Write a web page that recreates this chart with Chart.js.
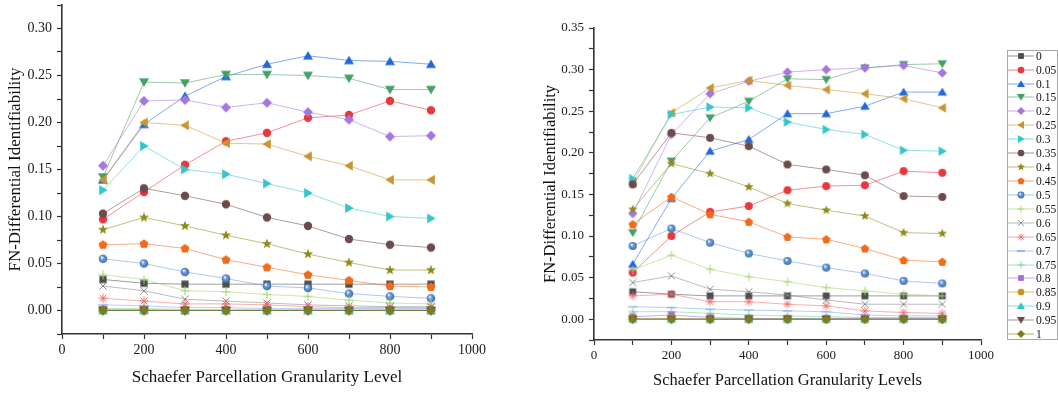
<!DOCTYPE html>
<html>
<head>
<meta charset="utf-8">
<script src="https://cdn.jsdelivr.net/npm/chart.js@4.4.1/dist/chart.umd.min.js"></script>
<style>
  body { margin: 0; background: #fff; width: 1058px; height: 393px; overflow: hidden; position: relative; font-family: 'Liberation Serif', 'Times New Roman', serif; }
  #left { position: absolute; left: 0; top: 0; }
  #right { position: absolute; left: 530px; top: 0; }
  #legend { position: absolute; left: 1007px; top: 50px; width: 51px; height: 290px; border: 1px solid #a8a8a8; box-sizing: border-box; background: #fff; }
  .row { position: absolute; left: 0; width: 49px; height: 14px; }
  .row canvas { position: absolute; left: 0; top: 0; }
  .row span { position: absolute; left: 28px; top: 0; font-size: 11.5px; line-height: 14px; color: #111; }
</style>
</head>
<body>
<canvas id="left" width="530" height="393"></canvas>
<canvas id="right" width="528" height="393"></canvas>
<div id="legend"></div>
<script>
// series names (threshold levels), in legend order
const levels = ['0', '0.05', '0.1', '0.15', '0.2', '0.25', '0.3', '0.35', '0.4', '0.45', '0.5',
  '0.55', '0.6', '0.65', '0.7', '0.75', '0.8', '0.85', '0.9', '0.95', '1'];

// x values: Schaefer parcellation granularity
const granularity = [100, 200, 300, 400, 500, 600, 700, 800, 900];

// left panel, one row per level
const panelA = [
  [0.033, 0.029, 0.028, 0.028, 0.028, 0.028, 0.028, 0.028, 0.028], // 0
  [0.097, 0.126, 0.155, 0.180, 0.189, 0.205, 0.208, 0.223, 0.213], // 0.05
  [0.139, 0.198, 0.228, 0.249, 0.262, 0.271, 0.266, 0.265, 0.262], // 0.1
  [0.142, 0.243, 0.242, 0.251, 0.251, 0.250, 0.247, 0.235, 0.235], // 0.15
  [0.154, 0.223, 0.224, 0.216, 0.221, 0.211, 0.203, 0.185, 0.186], // 0.2
  [0.139, 0.200, 0.197, 0.178, 0.177, 0.164, 0.154, 0.139, 0.139], // 0.25
  [0.128, 0.175, 0.150, 0.145, 0.135, 0.125, 0.109, 0.100, 0.098], // 0.3
  [0.103, 0.130, 0.122, 0.113, 0.099, 0.090, 0.076, 0.070, 0.067], // 0.35
  [0.086, 0.099, 0.090, 0.080, 0.071, 0.060, 0.051, 0.043, 0.043], // 0.4
  [0.070, 0.071, 0.066, 0.054, 0.046, 0.038, 0.032, 0.026, 0.025], // 0.45
  [0.055, 0.050, 0.041, 0.034, 0.026, 0.024, 0.018, 0.015, 0.013], // 0.5
  [0.038, 0.033, 0.021, 0.020, 0.017, 0.015, 0.011, 0.008, 0.007], // 0.55
  [0.026, 0.021, 0.012, 0.010, 0.008, 0.006, 0.005, 0.004, 0.004], // 0.6
  [0.013, 0.010, 0.007, 0.007, 0.006, 0.004, 0.003, 0.003, 0.003], // 0.65
  [0.006, 0.005, 0.003, 0.003, 0.002, 0.002, 0.002, 0.002, 0.002], // 0.7
  [0.002, 0.002, 0.001, 0.001, 0.001, 0.001, 0.001, 0.001, 0.001], // 0.75
  [0.001, 0.001, 0, 0, 0, 0, 0, 0, 0], // 0.8
  [0, 0, 0, 0, 0, 0, 0, 0, 0], // 0.85
  [0, 0, 0, 0, 0, 0, 0, 0, 0], // 0.9
  [0, 0, 0, 0, 0, 0, 0, 0, 0], // 0.95
  [0, 0, 0, 0, 0, 0, 0, 0, 0]  // 1
];

// right panel
const panelB = [
  [0.033, 0.030, 0.028, 0.028, 0.028, 0.028, 0.028, 0.028, 0.028], // 0
  [0.056, 0.100, 0.129, 0.136, 0.155, 0.160, 0.161, 0.178, 0.176], // 0.05
  [0.066, 0.145, 0.202, 0.216, 0.247, 0.247, 0.256, 0.273, 0.273], // 0.1
  [0.104, 0.190, 0.242, 0.262, 0.289, 0.288, 0.302, 0.306, 0.307], // 0.15
  [0.127, 0.222, 0.271, 0.286, 0.297, 0.300, 0.302, 0.305, 0.296], // 0.2
  [0.164, 0.248, 0.278, 0.287, 0.281, 0.276, 0.271, 0.265, 0.254], // 0.25
  [0.169, 0.246, 0.255, 0.254, 0.237, 0.228, 0.222, 0.203, 0.202], // 0.3
  [0.162, 0.224, 0.218, 0.208, 0.186, 0.180, 0.173, 0.148, 0.147], // 0.35
  [0.132, 0.187, 0.175, 0.159, 0.139, 0.131, 0.124, 0.104, 0.103], // 0.4
  [0.114, 0.147, 0.126, 0.117, 0.099, 0.096, 0.085, 0.071, 0.069], // 0.45
  [0.088, 0.109, 0.092, 0.079, 0.070, 0.062, 0.055, 0.046, 0.043], // 0.5
  [0.059, 0.077, 0.060, 0.051, 0.045, 0.038, 0.034, 0.030, 0.028], // 0.55
  [0.044, 0.052, 0.036, 0.033, 0.029, 0.023, 0.018, 0.018, 0.018], // 0.6
  [0.028, 0.030, 0.021, 0.021, 0.018, 0.016, 0.010, 0.008, 0.007], // 0.65
  [0.015, 0.014, 0.012, 0.011, 0.010, 0.009, 0.005, 0.004, 0.004], // 0.7
  [0.009, 0.009, 0.007, 0.005, 0.004, 0.003, 0.002, 0.002, 0.002], // 0.75
  [0.003, 0.005, 0.002, 0.001, 0.001, 0.001, 0.001, 0.001, 0.001], // 0.8
  [0.001, 0.001, 0, 0, 0, 0, 0, 0, 0], // 0.85
  [0, 0, 0, 0, 0, 0, 0, 0, 0], // 0.9
  [0, 0, 0, 0, 0, 0, 0, 0, 0], // 0.95
  [0, 0, 0, 0, 0, 0, 0, 0, 0]  // 1
];

const shapes = ['square', 'circle', 'up', 'down', 'diamond', 'left', 'right', 'circle', 'star', 'pentagon', 'sphere',
  'plus', 'x', 'asterisk', 'dash', 'plus', 'square', 'circle', 'up', 'down', 'diamond'];
const colors = ['#4d4d4d', '#e8373e', '#2268dc', '#45a066', '#a577e0', '#c99530', '#34c6c9', '#6f4a4a', '#8e8a1c', '#f26a1a', '#6a9bd8',
  '#9ed66a', '#858585', '#f26d6d', '#7aa7ef', '#6ccf95', '#a66bdf', '#c8941e', '#2cc8c8', '#6f4a4a', '#7d7d1c'];

const serif = 'Liberation Serif';

function fade(hex, a) {
  const n = parseInt(hex.slice(1), 16);
  return `rgba(${n >> 16}, ${(n >> 8) & 255}, ${n & 255}, ${a})`;
}

function poly(g, pts) {
  g.beginPath();
  pts.forEach(([x, y], i) => i ? g.lineTo(x, y) : g.moveTo(x, y));
  g.closePath();
  g.fill();
}

function ringPts(count, rOut, rIn) {
  const pts = [];
  const step = Math.PI / count;
  for (let i = 0; i < count * 2; i++) {
    const r = (i % 2 === 0) ? rOut : rIn;
    const a = -Math.PI / 2 + i * step;
    pts.push([r * Math.cos(a), r * Math.sin(a)]);
  }
  return pts;
}

function lines(g, segs, w) {
  g.lineWidth = w;
  g.beginPath();
  segs.forEach(([x1, y1, x2, y2]) => { g.moveTo(x1, y1); g.lineTo(x2, y2); });
  g.stroke();
}

// draws one Origin-style symbol centred at 0,0
function paint(g, shape, color) {
  g.fillStyle = color;
  g.strokeStyle = color;
  switch (shape) {
    case 'square': g.fillRect(-3.6, -3.6, 7.2, 7.2); break;
    case 'circle': g.beginPath(); g.arc(0, 0, 4.2, 0, Math.PI * 2); g.fill(); break;
    case 'up': poly(g, [[0, -4.7], [5, 3.8], [-5, 3.8]]); break;
    case 'down': poly(g, [[0, 4.7], [5, -3.8], [-5, -3.8]]); break;
    case 'left': poly(g, [[-4.7, 0], [3.8, -5], [3.8, 5]]); break;
    case 'right': poly(g, [[4.7, 0], [-3.8, -5], [-3.8, 5]]); break;
    case 'diamond': poly(g, [[0, -5], [5, 0], [0, 5], [-5, 0]]); break;
    case 'star': poly(g, ringPts(5, 5.3, 2.2)); break;
    case 'pentagon': {
      const pts = [];
      for (let i = 0; i < 5; i++) {
        const a = -Math.PI / 2 + i * 2 * Math.PI / 5;
        pts.push([4.7 * Math.cos(a), 4.7 * Math.sin(a) + 0.3]);
      }
      poly(g, pts);
      break;
    }
    case 'sphere': {
      const grd = g.createRadialGradient(-1.4, -1.6, 0.2, 0, 0, 4.4);
      grd.addColorStop(0, '#ffffff');
      grd.addColorStop(0.4, color);
      grd.addColorStop(1, '#3e6cab');
      g.fillStyle = grd;
      g.beginPath(); g.arc(0, 0, 4.3, 0, Math.PI * 2); g.fill();
      break;
    }
    case 'plus': lines(g, [[-4.5, 0, 4.5, 0], [0, -4.5, 0, 4.5]], 1); break;
    case 'x': lines(g, [[-3.7, -3.7, 3.7, 3.7], [-3.7, 3.7, 3.7, -3.7]], 1); break;
    case 'asterisk': lines(g, [[-4.5, 0, 4.5, 0], [0, -4.5, 0, 4.5], [-3.3, -3.3, 3.3, 3.3], [-3.3, 3.3, 3.3, -3.3]], 1); break;
    case 'dash': lines(g, [[-5, 0, 5, 0], [-5, 0, 5, 0]], 1.2); break;
  }
}

function marker(shape, color, k) {
  const c = document.createElement('canvas');
  c.width = 14;
  c.height = 14;
  const g = c.getContext('2d');
  g.translate(7, 7);
  g.scale(k, k);
  paint(g, shape, color);
  return c;
}

function makeDatasets(rows, k) {
  return rows.map((vals, i) => ({
    label: levels[i],
    data: granularity.map((x, j) => ({ x: x, y: vals[j] })),
    borderColor: fade(colors[i], 0.55),
    borderWidth: 1,
    pointStyle: marker(shapes[i], colors[i], k),
    pointRadius: 4,
    pointHoverRadius: 4,
    order: rows.length - 1 - i,
    clip: false
  }));
}

const isMajor = (v, step) => Math.abs(v / step - Math.round(v / step)) < 1e-6;

function makeScales(o) {
  const tickFont = { family: serif, size: o.tick };
  const titleFont = { family: serif, size: o.title };
  return {
    x: {
      type: 'linear', min: 0, max: 1000,
      ticks: { stepSize: 100, autoSkip: false, maxRotation: 0, color: '#1a1a1a', font: tickFont, padding: 3,
        callback: v => isMajor(v, 200) ? String(Math.round(v)) : '' },
      grid: { drawOnChartArea: false, tickLength: 5, tickColor: '#333', tickWidth: 1.2 },
      border: { color: '#333', width: 1.6 },
      title: { display: true, text: o.xTitle, color: '#111', font: titleFont, padding: { top: 0, bottom: o.xPad } },
      afterFit: s => { s.height = o.xH; s.paddingLeft = 0; s.paddingRight = 0; }
    },
    y: {
      type: 'linear', min: -0.025, max: o.yMax,
      ticks: { stepSize: 0.025, autoSkip: false, color: '#1a1a1a', font: tickFont, padding: 5,
        callback: v => isMajor(v, 0.05) ? v.toFixed(2) : '' },
      grid: { drawOnChartArea: false, tickLength: 5, tickColor: '#333', tickWidth: 1.2 },
      border: { color: '#333', width: 1.6 },
      title: { display: true, text: 'FN-Differential Identifiability', color: '#111', font: titleFont, padding: { top: o.yPad, bottom: 0 } },
      afterFit: s => { s.width = o.yW; s.paddingTop = 0; s.paddingBottom = 0; }
    }
  };
}

function makeChart(id, rows, k, pad, scaleOpts) {
  return new Chart(document.getElementById(id), {
    type: 'line',
    data: { datasets: makeDatasets(rows, k) },
    options: {
      responsive: false,
      animation: false,
      devicePixelRatio: 1,
      layout: { padding: pad },
      plugins: { legend: { display: false }, tooltip: { enabled: false } },
      scales: makeScales(scaleOpts)
    }
  });
}

makeChart('left', panelA, 1, { left: 0, right: 58, top: 3, bottom: 0 },
  { tick: 14, title: 17, xTitle: 'Schaefer Parcellation Granularity Level', xPad: 5, xH: 59, yW: 62, yPad: 5, yMax: 0.325 });

makeChart('right', panelB, 0.95, { left: 0, right: 77, top: 28, bottom: 0 },
  { tick: 13, title: 16.5, xTitle: 'Schaefer Parcellation Granularity Levels', xPad: 2, xH: 53, yW: 64, yPad: 11, yMax: 0.35 });

// legend box (shared, right side)
const legendBox = document.getElementById('legend');
levels.forEach((name, i) => {
  const row = document.createElement('div');
  row.className = 'row';
  row.style.top = (-2.3 + i * 13.92) + 'px';
  const c = document.createElement('canvas');
  c.width = 27;
  c.height = 14;
  const g = c.getContext('2d');
  g.strokeStyle = fade(colors[i], 0.6);
  g.lineWidth = 1;
  g.beginPath();
  g.moveTo(0, 7);
  g.lineTo(26, 7);
  g.stroke();
  g.translate(13, 7);
  g.scale(0.8, 0.8);
  paint(g, shapes[i], colors[i]);
  const label = document.createElement('span');
  label.textContent = name;
  row.appendChild(c);
  row.appendChild(label);
  legendBox.appendChild(row);
});
</script>
</body>
</html>
